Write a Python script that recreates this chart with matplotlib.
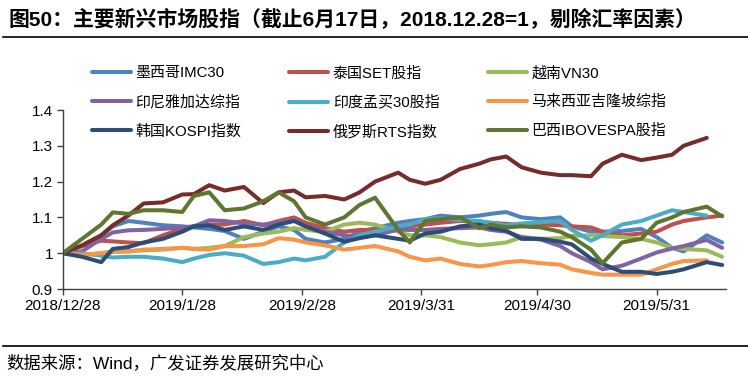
import numpy as np
import pandas as pd
import matplotlib
matplotlib.use("Agg")
import matplotlib.pyplot as plt
import matplotlib.dates as mdates
from matplotlib.lines import Line2D

plt.rcParams['font.family'] = ['Liberation Sans', 'Noto Sans CJK SC', 'DejaVu Sans']

dates = ["2018-12-28", "2019-01-02", "2019-01-07", "2019-01-10", "2019-01-14", "2019-01-18",
         "2019-01-23", "2019-01-28", "2019-01-31", "2019-02-04", "2019-02-08", "2019-02-13",
         "2019-02-18", "2019-02-22", "2019-02-26", "2019-03-01", "2019-03-06", "2019-03-11",
         "2019-03-15", "2019-03-19", "2019-03-25", "2019-03-28", "2019-04-01", "2019-04-05",
         "2019-04-10", "2019-04-15", "2019-04-18", "2019-04-22", "2019-04-26", "2019-05-01",
         "2019-05-06", "2019-05-09", "2019-05-14", "2019-05-17", "2019-05-22", "2019-05-27",
         "2019-05-31", "2019-06-04", "2019-06-07", "2019-06-13", "2019-06-17"]

mexico = [1.0, 1.02, 1.05, 1.075, 1.09, 1.085, 1.078, 1.075, 1.072, 1.068, 1.062, 1.04, 1.06,
          1.075, 1.065, 1.04, 1.03, 1.04, 1.06, 1.07, 1.085, 1.09, 1.095, 1.105, 1.1, 1.105,
          1.11, 1.115, 1.1, 1.095, 1.1, 1.075, 1.06, 1.06, 1.062, 1.068, 1.045, 1.015, 1.005,
          1.05, 1.03]
thailand = [1.0, 1.02, 1.035, 1.033, 1.03, 1.028, 1.05, 1.068, 1.075, 1.08, 1.08, 1.09, 1.078,
            1.09, 1.1, 1.085, 1.07, 1.06, 1.065, 1.065, 1.07, 1.075, 1.08, 1.085, 1.09, 1.088,
            1.085, 1.082, 1.078, 1.08, 1.078, 1.075, 1.072, 1.06, 1.05, 1.055, 1.06, 1.08,
            1.09, 1.1, 1.105]
vietnam = [1.0, 0.995, 1.0, 1.003, 1.005, 1.008, 1.01, 1.015, 1.012, 1.015, 1.02, 1.045, 1.055,
           1.06, 1.07, 1.065, 1.06, 1.08, 1.085, 1.08, 1.06, 1.05, 1.05, 1.045, 1.03, 1.022,
           1.025, 1.03, 1.045, 1.04, 1.042, 1.048, 1.05, 1.048, 1.045, 1.04, 1.03, 1.015,
           1.012, 1.008, 0.99]
indonesia = [1.0, 1.005, 1.04, 1.058, 1.064, 1.065, 1.068, 1.072, 1.075, 1.092, 1.09, 1.083,
             1.08, 1.085, 1.092, 1.075, 1.06, 1.05, 1.045, 1.05, 1.066, 1.065, 1.065, 1.068,
             1.07, 1.072, 1.065, 1.06, 1.045, 1.038, 1.02, 1.0, 0.975, 0.955, 0.965, 0.985,
             1.002, 1.013, 1.02, 1.037, 1.015]
india = [1.0, 1.0, 0.993, 0.988, 0.99, 0.99, 0.985, 0.975, 0.985, 0.995, 1.0, 0.993, 0.97,
         0.975, 0.985, 0.98, 0.99, 1.03, 1.05, 1.06, 1.075, 1.08, 1.095, 1.098, 1.093, 1.09,
         1.085, 1.078, 1.083, 1.087, 1.09, 1.065, 1.035, 1.05, 1.08, 1.09, 1.105, 1.12, 1.115,
         1.105, np.nan]
malaysia = [1.0, 0.995, 1.0, 1.005, 1.005, 1.01, 1.012, 1.015, 1.012, 1.01, 1.02, 1.02, 1.025,
            1.042, 1.038, 1.03, 1.022, 1.01, 1.015, 1.02, 1.005, 0.99, 0.98, 0.985, 0.97, 0.963,
            0.967, 0.975, 0.978, 0.972, 0.968, 0.955, 0.945, 0.94, 0.94, 0.94, 0.955, 0.97,
            0.978, 0.98, np.nan]
korea = [1.0, 0.99, 0.975, 1.012, 1.017, 1.03, 1.04, 1.06, 1.075, 1.078, 1.065, 1.075, 1.065,
         1.08, 1.09, 1.075, 1.055, 1.032, 1.042, 1.05, 1.04, 1.035, 1.055, 1.06, 1.075, 1.08,
         1.07, 1.063, 1.04, 1.04, 1.032, 1.025, 0.985, 0.97, 0.948, 0.948, 0.942, 0.948, 0.955,
         0.975, 0.967]
russia = [1.0, 1.022, 1.05, 1.078, 1.105, 1.139, 1.142, 1.164, 1.165, 1.19, 1.175, 1.185, 1.14,
          1.17, 1.175, 1.156, 1.16, 1.15, 1.17, 1.2, 1.225, 1.205, 1.194, 1.205, 1.235, 1.25,
          1.262, 1.27, 1.24, 1.225, 1.218, 1.218, 1.215, 1.25, 1.275, 1.26, 1.267, 1.275, 1.3,
          1.322, np.nan]
brazil = [1.0, 1.04, 1.08, 1.114, 1.11, 1.12, 1.12, 1.115, 1.16, 1.17, 1.12, 1.125, 1.145, 1.17,
          1.145, 1.1, 1.08, 1.1, 1.135, 1.155, 1.065, 1.03, 1.09, 1.095, 1.1, 1.07, 1.08, 1.072,
          1.075, 1.072, 1.06, 1.045, 1.01, 0.972, 1.03, 1.04, 1.085, 1.1, 1.115, 1.13, 1.103]

names = ["墨西哥IMC30", "泰国SET股指", "越南VN30", "印尼雅加达综指", "印度孟买30股指",
         "马来西亚吉隆坡综指", "韩国KOSPI指数", "俄罗斯RTS指数", "巴西IBOVESPA股指"]
series = [mexico, thailand, vietnam, indonesia, india, malaysia, korea, russia, brazil]
colors = ["#4F81BD", "#C0504D", "#9BBB59", "#8064A2", "#4BACC6", "#F79646",
          "#2C4D75", "#772C2A", "#5F7530"]

tick_dates = ["2018-12-28", "2019-01-28", "2019-02-28", "2019-03-31", "2019-04-30", "2019-05-31"]
tick_labels = ["2018/12/28", "2019/1/28", "2019/2/28", "2019/3/31", "2019/4/30", "2019/5/31"]
y_ticks = [0.9, 1.0, 1.1, 1.2, 1.3, 1.4]
y_labels = ["0.9", "1", "1.1", "1.2", "1.3", "1.4"]

W, H = 748, 378
fig = plt.figure(figsize=(W / 100, H / 100), dpi=100)
ax = fig.add_axes([62.7 / W, 1 - 289 / H, (726 - 62.7) / W, (289 - 110) / H])

x = pd.to_datetime(dates)
handles = []
for vals, name, c in zip(series, names, colors):
    h, = ax.plot(x, vals, color=c, lw=2.9, label=name, solid_capstyle='round',
                 solid_joinstyle='round')
    handles.append(h)

ax.set_ylim(0.9, 1.4)
ax.set_xlim(pd.Timestamp("2018-12-28"), pd.Timestamp("2018-12-28") + pd.Timedelta(days=172))
ax.set_yticks(y_ticks)
ax.set_yticklabels(y_labels, fontsize=11)
ax.set_xticks(pd.to_datetime(tick_dates))
ax.set_xticklabels(tick_labels, fontsize=11)
ax.tick_params(axis='both', direction='out', length=4, width=1, color='#404040', pad=3)
for s in ['top', 'right']:
    ax.spines[s].set_visible(False)
for s in ['left', 'bottom']:
    ax.spines[s].set_color('#404040')
    ax.spines[s].set_linewidth(1)

order = [0, 3, 6, 1, 4, 7, 2, 5, 8]
leg = fig.legend([handles[i] for i in order], [names[i] for i in order], ncol=3,
                 loc='upper left', bbox_to_anchor=(92 / W, 1 - 66 / H), frameon=False,
                 fontsize=10.8, handlelength=2.6, handletextpad=0.3, columnspacing=3.2,
                 labelspacing=0.98, borderaxespad=0, borderpad=0)

fig.text(8 / W, 1 - 20 / H, "图50：主要新兴市场股指（截止6月17日，2018.12.28=1，剔除汇率因素）",
         fontsize=15, fontweight='bold', va='center', ha='left')
fig.add_artist(Line2D([3 / W, 1], [1 - 37 / H, 1 - 37 / H], color='black', lw=1.2))
fig.add_artist(Line2D([3 / W, 1], [1 - 346 / H, 1 - 346 / H], color='black', lw=1.2))
fig.text(6 / W, 1 - 363 / H, "数据来源：Wind，广发证券发展研究中心", fontsize=12.5,
         va='center', ha='left')

fig.savefig("out.png", dpi=100)
